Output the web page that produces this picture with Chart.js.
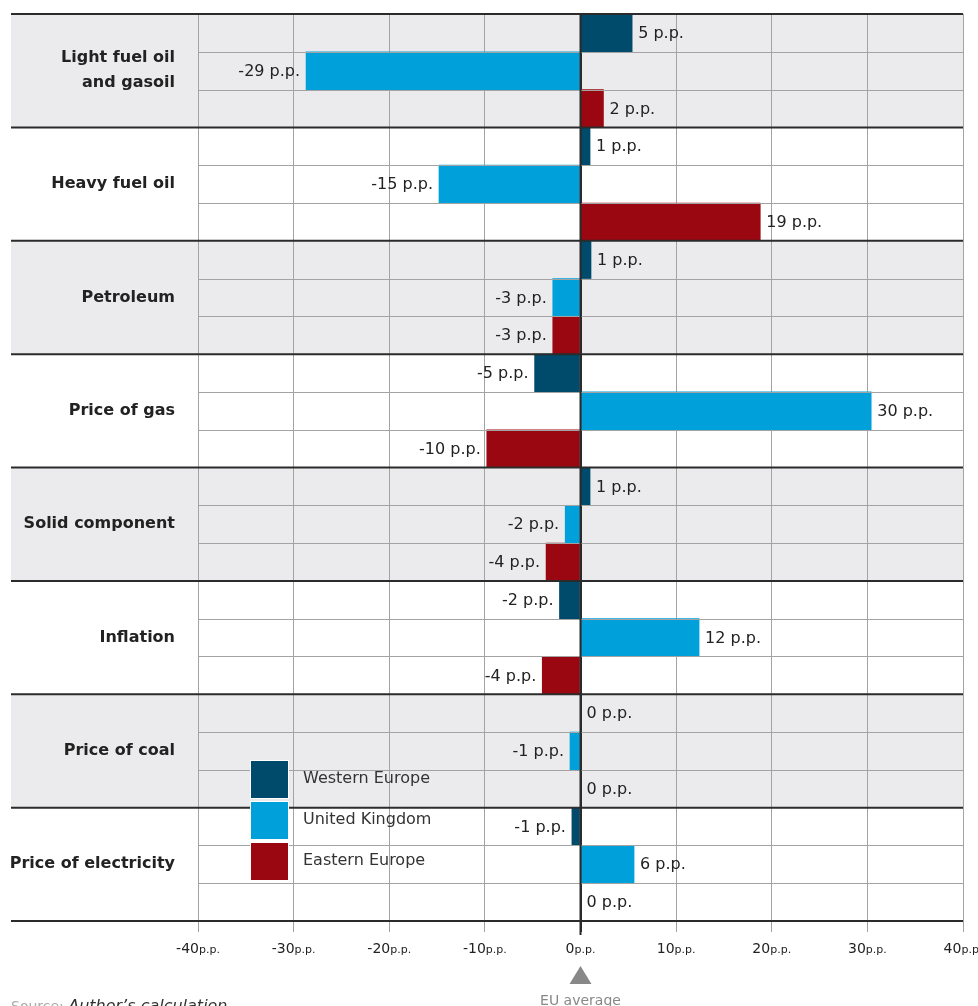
<!DOCTYPE html>
<html>
<head>
    <title>Deviation from EU average</title>
    <script src="https://cdn.jsdelivr.net/npm/chart.js"></script>
    <style>
        body {
            margin: 0;
            background: #fff;
        }
        #chart {
            display: block;
        }
    </style>
</head>
<body>
    <canvas id="chart" width="978" height="1006"></canvas>

    <script>
        // Data (percentage points vs EU average)
        const categories = [
            ['Light fuel oil', 'and gasoil'],
            'Heavy fuel oil',
            'Petroleum',
            'Price of gas',
            'Solid component',
            'Inflation',
            'Price of coal',
            'Price of electricity'
        ];
        const seriesNames = ['Western Europe', 'United Kingdom', 'Eastern Europe'];
        const seriesColors = ['#004a6b', '#00a0da', '#9b0710'];
        const westernEurope = [5.4, 1.0, 1.1, -4.8, 1.0, -2.2, 0, -0.9];
        const unitedKingdom = [-28.7, -14.8, -2.9, 30.4, -1.6, 12.4, -1.1, 5.6];
        const easternEurope = [2.4, 18.8, -2.9, -9.8, -3.6, -4.0, 0, 0];
        const xTicks = [-40, -30, -20, -10, 0, 10, 20, 30, 40];

        const FONT = "'DejaVu Sans', sans-serif";
        const TABLE_LEFT = 11;

        // grey shading behind every other group
        const shadingPlugin = {
            id: 'shading',
            beforeDraw(chart) {
                const { ctx, chartArea } = chart;
                const y = chart.scales.y;
                const band = y.getPixelForValue(1) - y.getPixelForValue(0);
                ctx.save();
                ctx.fillStyle = '#ebebed';
                categories.forEach((c, i) => {
                    if (i % 2 === 0) {
                        const top = y.getPixelForValue(i) - band / 2;
                        ctx.fillRect(TABLE_LEFT, top, chartArea.right - TABLE_LEFT, band);
                    }
                });
                ctx.restore();
            }
        };

        // row lines, zero line, value labels, legend
        const overlayPlugin = {
            id: 'overlay',
            afterDatasetsDraw(chart) {
                const { ctx, chartArea } = chart;
                const y = chart.scales.y;
                const x = chart.scales.x;
                const band = y.getPixelForValue(1) - y.getPixelForValue(0);
                ctx.save();

                // sub-row lines
                ctx.strokeStyle = '#a3a3a3';
                ctx.lineWidth = 1;
                categories.forEach((c, i) => {
                    const top = y.getPixelForValue(i) - band / 2;
                    [1, 2].forEach(k => {
                        const yy = Math.round(top + k * band / 3) + 0.5;
                        ctx.beginPath();
                        ctx.moveTo(chartArea.left, yy);
                        ctx.lineTo(chartArea.right, yy);
                        ctx.stroke();
                    });
                });

                // zero line
                const zx = x.getPixelForValue(0);
                ctx.strokeStyle = '#2b2b2b';
                ctx.lineWidth = 2;
                ctx.beginPath();
                ctx.moveTo(zx, chartArea.top);
                ctx.lineTo(zx, chartArea.bottom + 14);
                ctx.stroke();

                // group separators
                ctx.strokeStyle = '#2b2b2b';
                ctx.lineWidth = 2;
                for (let i = 0; i <= categories.length; i++) {
                    const yy = y.getPixelForValue(0) - band / 2 + i * band;
                    ctx.beginPath();
                    ctx.moveTo(TABLE_LEFT, yy);
                    ctx.lineTo(chartArea.right, yy);
                    ctx.stroke();
                }

                // value labels
                ctx.font = '16px ' + FONT;
                ctx.fillStyle = '#222';
                ctx.textBaseline = 'middle';
                chart.data.datasets.forEach((ds, di) => {
                    const meta = chart.getDatasetMeta(di);
                    meta.data.forEach((bar, i) => {
                        const v = ds.data[i];
                        const txt = Math.round(v) + ' p.p.';
                        if (v < 0) {
                            ctx.textAlign = 'right';
                            ctx.fillText(txt, bar.x - 6, bar.y + 1);
                        } else {
                            ctx.textAlign = 'left';
                            ctx.fillText(txt, Math.max(bar.x, zx) + 6, bar.y + 1);
                        }
                    });
                });

                // legend
                const boxX = 251, boxSize = 37;
                const boxY = [761, 802, 843];
                seriesNames.forEach((name, i) => {
                    ctx.fillStyle = '#fff';
                    ctx.fillRect(boxX - 1, boxY[i] - 1, boxSize + 2, boxSize + 2);
                    ctx.fillStyle = seriesColors[i];
                    ctx.fillRect(boxX, boxY[i], boxSize, boxSize);
                    ctx.fillStyle = '#333';
                    ctx.textAlign = 'left';
                    ctx.fillText(name, 303, boxY[i] + 18);
                });
                ctx.restore();
            },
            afterDraw(chart) {
                const { ctx } = chart;
                const x = chart.scales.x;
                ctx.save();
                ctx.fillStyle = '#222';
                ctx.textBaseline = 'alphabetic';

                // tick labels: number + small "p.p."
                xTicks.forEach(t => {
                    const px = x.getPixelForValue(t);
                    const num = String(t);
                    ctx.font = '14px ' + FONT;
                    const w1 = ctx.measureText(num).width;
                    ctx.font = '11px ' + FONT;
                    const w2 = ctx.measureText('p.p.').width;
                    const start = px - (w1 + w2) / 2;
                    ctx.textAlign = 'left';
                    ctx.font = '14px ' + FONT;
                    ctx.fillText(num, start, 953);
                    ctx.font = '11px ' + FONT;
                    ctx.fillText('p.p.', start + w1, 953);
                });

                // EU average marker
                const zx = x.getPixelForValue(0);
                ctx.fillStyle = '#888';
                ctx.beginPath();
                ctx.moveTo(zx, 966);
                ctx.lineTo(zx + 11, 984);
                ctx.lineTo(zx - 11, 984);
                ctx.closePath();
                ctx.fill();
                ctx.font = '14px ' + FONT;
                ctx.textAlign = 'center';
                ctx.fillText('EU average', zx, 1005);

                // source
                ctx.textAlign = 'left';
                ctx.font = '14px ' + FONT;
                ctx.fillStyle = '#aaa';
                ctx.fillText('Source:', TABLE_LEFT, 1011);
                const sw = ctx.measureText('Source: ').width;
                ctx.font = 'italic 16px ' + FONT;
                ctx.fillStyle = '#333';
                ctx.fillText('Author\u2019s calculation', TABLE_LEFT + sw, 1011);
                ctx.restore();
            }
        };

        const ctx = document.getElementById('chart').getContext('2d');
        const chart = new Chart(ctx, {
            type: 'bar',
            data: {
                labels: categories,
                datasets: [
                    { label: seriesNames[0], data: westernEurope, backgroundColor: seriesColors[0] },
                    { label: seriesNames[1], data: unitedKingdom, backgroundColor: seriesColors[1] },
                    { label: seriesNames[2], data: easternEurope, backgroundColor: seriesColors[2] }
                ]
            },
            options: {
                indexAxis: 'y',
                responsive: false,
                animation: false,
                devicePixelRatio: 1,
                categoryPercentage: 1,
                barPercentage: 1,
                layout: {
                    padding: { top: 14, right: 15, bottom: 0, left: 0 }
                },
                plugins: {
                    legend: { display: false },
                    tooltip: { enabled: false }
                },
                scales: {
                    x: {
                        min: -40,
                        max: 40,
                        afterBuildTicks: scale => {
                            scale.ticks = xTicks.map(v => ({ value: v }));
                        },
                        afterFit: scale => {
                            scale.height = 85;
                            scale.paddingLeft = 0;
                            scale.paddingRight = 0;
                        },
                        grid: {
                            color: c => (c.tick && c.tick.value === 0) ? '#2b2b2b' : '#a3a3a3',
                            lineWidth: c => (c.tick && c.tick.value === 0) ? 2 : 1,
                            tickLength: 11
                        },
                        border: { display: false },
                        ticks: { display: false }
                    },
                    y: {
                        afterFit: scale => {
                            scale.width = 198;
                            scale.paddingTop = 0;
                            scale.paddingBottom = 0;
                        },
                        grid: { display: false },
                        border: { display: false },
                        ticks: {
                            color: '#222',
                            padding: 15,
                            font: { family: FONT, weight: 'bold', size: 16, lineHeight: 1.55 }
                        }
                    }
                }
            },
            plugins: [shadingPlugin, overlayPlugin]
        });
    </script>
</body>
</html>
